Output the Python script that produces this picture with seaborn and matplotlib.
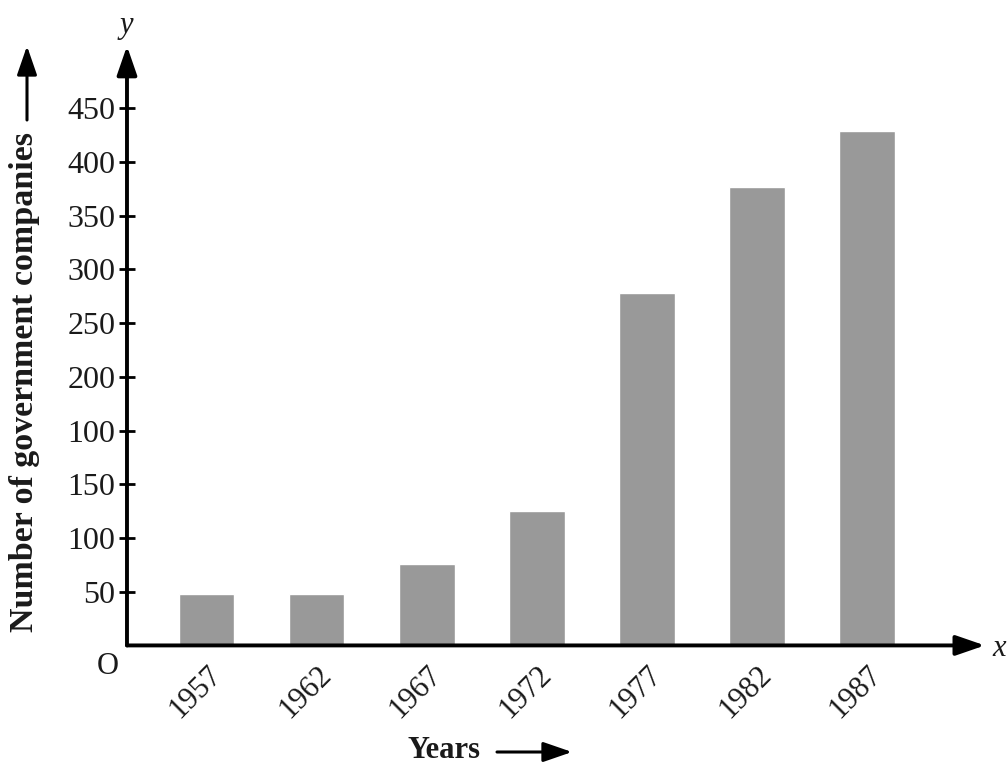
import matplotlib
matplotlib.use('Agg')
import matplotlib.pyplot as plt
import seaborn as sns
import pandas as pd

# values (in axis units, the ticks sit at 50..500)
years = ['1957', '1962', '1967', '1972', '1977', '1982', '1987']
companies = [48, 48, 76, 125, 328, 427, 479]
ytick_pos = [50, 100, 150, 200, 250, 300, 350, 400, 450, 500]
# tick labels as printed in the source (note the repeated 100)
ytick_labels = ['50', '100', '150', '100', '200', '250', '300', '350', '400', '450']

sns.set_style('white')
plt.rcParams['font.family'] = ['Liberation Serif', 'DejaVu Serif']

df = pd.DataFrame({'year': years, 'count': companies})

fig = plt.figure(figsize=(10.07, 7.64), dpi=100)
ax = fig.add_axes([0.1261, 0.1552, 0.978 - 0.1261, 0.9398 - 0.1552])
sns.barplot(data=df, x='year', y='count', color='#999999', saturation=1,
            width=0.504, ax=ax)
ax.set_xlim(-0.724, 7.07)
ax.set_ylim(0, 558)
for s in ax.spines.values():
    s.set_visible(False)
ax.set_xlabel('')
ax.set_ylabel('')

txt = '#1a1a1a'
#axis arrows
head = '-|>,head_length=1.1,head_width=0.38'
ax.annotate('', xy=(1, 0), xytext=(0, 0), xycoords='axes fraction',
            arrowprops=dict(arrowstyle=head, lw=2.8, color='black',
                            shrinkA=0, shrinkB=0, mutation_scale=16))
ax.annotate('', xy=(0, 1), xytext=(0, 0), xycoords='axes fraction',
            arrowprops=dict(arrowstyle=head, lw=2.8, color='black',
                            shrinkA=0, shrinkB=0, mutation_scale=16))

ax.set_yticks(ytick_pos, ytick_labels)
ax.tick_params(axis='y', left=True, direction='inout', length=11, width=2,
               color='black', labelsize=23, labelcolor=txt, pad=3)
ax.tick_params(axis='x', bottom=False, length=0, labelsize=22, labelcolor=txt, pad=11)
for lbl in ax.get_xticklabels():
    lbl.set_rotation(45)
    lbl.set_ha('right')
    lbl.set_rotation_mode('anchor')

##labels
fig.text(25 / 1007, (764 - 632) / 764, 'Number of government companies',
         rotation=90, fontweight='bold', fontsize=24.5, color=txt,
         ha='center', va='bottom')
fig.text(408 / 1007, 6 / 764, 'Years', fontweight='bold', fontsize=22,
         color=txt, ha='left', va='baseline')
fig.text(108 / 1007, 98 / 764, 'O', fontsize=22, color=txt, ha='center', va='center')
fig.text(126 / 1007, 738 / 764, 'y', fontsize=22, style='italic', color=txt,
         ha='center', va='center')
fig.text(992 / 1007, 115 / 764, 'x', fontsize=22, style='italic', color=txt,
         ha='left', va='center')

fig_arrow = dict(arrowstyle=head, lw=2.2, color='black', shrinkA=0, shrinkB=0,
                 mutation_scale=16)
fig.add_artist(matplotlib.patches.FancyArrowPatch(
    (27 / 1007, (764 - 120) / 764), (27 / 1007, (764 - 46) / 764),
    transform=fig.transFigure, **fig_arrow))
fig.add_artist(matplotlib.patches.FancyArrowPatch(
    (497 / 1007, 12 / 764), (572 / 1007, 12 / 764),
    transform=fig.transFigure, **fig_arrow))

fig.savefig('out.png', dpi=100)
